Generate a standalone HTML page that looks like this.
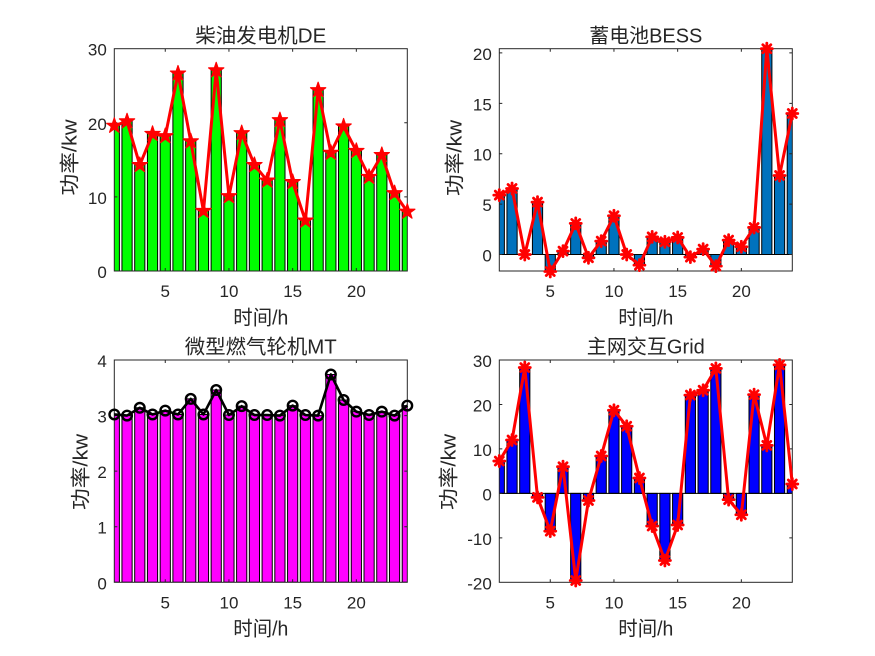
<!DOCTYPE html>
<html><head><meta charset="utf-8">
<style>
html,body{margin:0;padding:0;background:#fff;}
svg{display:block;}
text{font-family:"Liberation Sans","Noto Sans CJK SC",sans-serif;fill:#262626;}
.tk{font-size:17px;}
.tt{font-size:20px;}
.b rect{vector-effect:non-scaling-stroke;stroke:#000;stroke-width:1;}
.ax{fill:none;stroke:#262626;stroke-width:1;}
</style></head>
<body>
<svg width="875" height="656" viewBox="0 0 875 656" xmlns="http://www.w3.org/2000/svg">
<defs>
<marker id="star" markerUnits="userSpaceOnUse" markerWidth="30" markerHeight="30" refX="0" refY="0" overflow="visible" orient="0">
<polygon points="0,-8 1.8,-2.48 7.61,-2.47 2.91,0.95 4.7,6.47 0,3.06 -4.7,6.47 -2.91,0.95 -7.61,-2.47 -1.8,-2.48" fill="#ff0000" stroke="#ff0000" stroke-width="1.2" stroke-linejoin="round"/>
</marker>
<marker id="ast" markerUnits="userSpaceOnUse" markerWidth="30" markerHeight="30" refX="0" refY="0" overflow="visible" orient="0">
<path d="M0,-5.5V5.5M-5.5,0H5.5M-4,-4L4,4M-4,4L4,-4" stroke="#ff0000" stroke-width="2.8" stroke-linecap="round" fill="none"/>
<circle cx="0" cy="0" r="3" fill="#ff0000"/>
</marker>
<marker id="circ" markerUnits="userSpaceOnUse" markerWidth="30" markerHeight="30" refX="0" refY="0" overflow="visible" orient="0">
<circle cx="0" cy="0" r="4.8" fill="none" stroke="#000" stroke-width="2.4"/>
</marker>
</defs>

<!-- ============ TOP LEFT: DE ============ -->
<svg class="b" x="114.3" y="48.7" width="293" height="222.3" viewBox="1 -30 23 30" preserveAspectRatio="none">
<g fill="#00ff00">
<rect x="0.6" y="-19.6" width="0.8" height="19.6"/>
<rect x="1.6" y="-20.2" width="0.8" height="20.2"/>
<rect x="2.6" y="-14.3" width="0.8" height="14.3"/>
<rect x="3.6" y="-18.5" width="0.8" height="18.5"/>
<rect x="4.6" y="-18.2" width="0.8" height="18.2"/>
<rect x="5.6" y="-26.65" width="0.8" height="26.65"/>
<rect x="6.6" y="-17.5" width="0.8" height="17.5"/>
<rect x="7.6" y="-8.1" width="0.8" height="8.1"/>
<rect x="8.6" y="-27.08" width="0.8" height="27.08"/>
<rect x="9.6" y="-10.1" width="0.8" height="10.1"/>
<rect x="10.6" y="-18.6" width="0.8" height="18.6"/>
<rect x="11.6" y="-14.3" width="0.8" height="14.3"/>
<rect x="12.6" y="-12.2" width="0.8" height="12.2"/>
<rect x="13.6" y="-20.35" width="0.8" height="20.35"/>
<rect x="14.6" y="-12" width="0.8" height="12"/>
<rect x="15.6" y="-6.8" width="0.8" height="6.8"/>
<rect x="16.6" y="-24.4" width="0.8" height="24.4"/>
<rect x="17.6" y="-15.95" width="0.8" height="15.95"/>
<rect x="18.6" y="-19.5" width="0.8" height="19.5"/>
<rect x="19.6" y="-16.2" width="0.8" height="16.2"/>
<rect x="20.6" y="-12.7" width="0.8" height="12.7"/>
<rect x="21.6" y="-15.65" width="0.8" height="15.65"/>
<rect x="22.6" y="-10.5" width="0.8" height="10.5"/>
<rect x="23.6" y="-8" width="0.8" height="8"/>
</g>
</svg>
<rect class="ax" x="114.3" y="48.7" width="293" height="222.3"/>
<path class="ax" d="M165.26,271v-3M228.95,271v-3M292.65,271v-3M356.34,271v-3M165.26,48.7v3M228.95,48.7v3M292.65,48.7v3M356.34,48.7v3M114.3,196.9h3M114.3,122.8h3M407.3,196.9h-3M407.3,122.8h-3"/>
<polyline fill="none" stroke="#ff0000" stroke-width="3" stroke-linejoin="round" marker-start="url(#star)" marker-mid="url(#star)" marker-end="url(#star)"
points="114.3,125.76 127.04,121.32 139.78,165.04 152.52,133.91 165.26,136.14 178,73.52 190.73,141.32 203.47,210.98 216.21,70.34 228.95,196.16 241.69,133.17 254.43,165.04 267.17,180.6 279.91,120.21 292.65,182.08 305.39,220.61 318.13,90.2 330.87,152.81 343.6,126.5 356.34,150.96 369.08,176.89 381.82,155.03 394.56,193.19 407.3,211.72"/>
<g class="tk" text-anchor="middle">
<text x="165.26" y="297">5</text><text x="228.95" y="297">10</text><text x="292.65" y="297">15</text><text x="356.34" y="297">20</text>
</g>
<g class="tk" text-anchor="end">
<text x="106.8" y="278">0</text><text x="106.8" y="203.9">10</text><text x="106.8" y="129.8">20</text><text x="106.8" y="55.7">30</text>
</g>
<text class="tt" x="260.8" y="42.7" text-anchor="middle" textLength="131" lengthAdjust="spacingAndGlyphs">柴油发电机DE</text>
<text class="tt" x="260.8" y="324.5" text-anchor="middle" textLength="55" lengthAdjust="spacingAndGlyphs">时间/h</text>
<text class="tt" transform="translate(70.5,157.5) rotate(-90)" text-anchor="middle" dominant-baseline="central" textLength="76" lengthAdjust="spacingAndGlyphs">功率/kw</text>

<!-- ============ TOP RIGHT: BESS ============ -->
<svg class="b" x="499.3" y="48.7" width="293" height="222.3" viewBox="1 -20.42 23 22.06" preserveAspectRatio="none">
<g fill="#0072bd">
<rect x="0.6" y="-5.89" width="0.8" height="5.89"/>
<rect x="1.6" y="-6.55" width="0.8" height="6.55"/>
<rect x="3.6" y="-5.19" width="0.8" height="5.19"/>
<rect x="4.6" y="0" width="0.8" height="1.75"/>
<rect x="5.6" y="-0.33" width="0.8" height="0.33"/>
<rect x="6.6" y="-3.08" width="0.8" height="3.08"/>
<rect x="7.6" y="0" width="0.8" height="0.33"/>
<rect x="8.6" y="-1.32" width="0.8" height="1.32"/>
<rect x="9.6" y="-3.84" width="0.8" height="3.84"/>
<rect x="11.6" y="0" width="0.8" height="1.06"/>
<rect x="12.6" y="-1.75" width="0.8" height="1.75"/>
<rect x="13.6" y="-1.26" width="0.8" height="1.26"/>
<rect x="14.6" y="-1.69" width="0.8" height="1.69"/>
<rect x="15.6" y="0" width="0.8" height="0.26"/>
<rect x="16.6" y="-0.53" width="0.8" height="0.53"/>
<rect x="17.6" y="0" width="0.8" height="1.16"/>
<rect x="18.6" y="-1.42" width="0.8" height="1.42"/>
<rect x="19.6" y="-0.76" width="0.8" height="0.76"/>
<rect x="20.6" y="-2.68" width="0.8" height="2.68"/>
<rect x="21.6" y="-20.42" width="0.8" height="20.42"/>
<rect x="22.6" y="-7.84" width="0.8" height="7.84"/>
<rect x="23.6" y="-13.99" width="0.8" height="13.99"/>
</g>
</svg>
<line x1="499.3" y1="254.47" x2="792.3" y2="254.47" stroke="#000" stroke-width="1"/>
<rect class="ax" x="499.3" y="48.7" width="293" height="222.3"/>
<path class="ax" d="M550.26,271v-3M613.95,271v-3M677.65,271v-3M741.34,271v-3M550.26,48.7v3M613.95,48.7v3M677.65,48.7v3M741.34,48.7v3M499.3,254.47h3M499.3,204.09h3M499.3,153.7h3M499.3,103.32h3M499.3,52.93h3M792.3,254.47h-3M792.3,204.09h-3M792.3,153.7h-3M792.3,103.32h-3M792.3,52.93h-3"/>
<polyline fill="none" stroke="#ff0000" stroke-width="3" stroke-linejoin="round" marker-start="url(#ast)" marker-mid="url(#ast)" marker-end="url(#ast)"
points="499.3,195.12 512.04,188.47 524.78,254.47 537.52,202.17 550.26,271.5 563,251.14 575.73,223.43 588.47,257.8 601.21,241.17 613.95,215.77 626.69,254.47 639.43,265.15 652.17,236.84 664.91,241.77 677.65,237.44 690.39,257.09 703.13,249.13 715.87,266.16 728.6,240.16 741.34,246.81 754.08,227.46 766.82,48.7 779.56,175.47 792.3,113.49"/>
<g class="tk" text-anchor="middle">
<text x="550.26" y="297">5</text><text x="613.95" y="297">10</text><text x="677.65" y="297">15</text><text x="741.34" y="297">20</text>
</g>
<g class="tk" text-anchor="end">
<text x="491.8" y="261.5">0</text><text x="491.8" y="211.1">5</text><text x="491.8" y="160.7">10</text><text x="491.8" y="110.3">15</text><text x="491.8" y="59.9">20</text>
</g>
<text class="tt" x="645.8" y="42.7" text-anchor="middle" textLength="113" lengthAdjust="spacingAndGlyphs">蓄电池BESS</text>
<text class="tt" x="645.8" y="324.5" text-anchor="middle" textLength="55" lengthAdjust="spacingAndGlyphs">时间/h</text>
<text class="tt" transform="translate(455.5,158) rotate(-90)" text-anchor="middle" dominant-baseline="central" textLength="76" lengthAdjust="spacingAndGlyphs">功率/kw</text>

<!-- ============ BOTTOM LEFT: MT ============ -->
<svg class="b" x="114.3" y="360" width="293" height="222.3" viewBox="1 -4 23 4" preserveAspectRatio="none">
<g fill="#ff00ff">
<rect x="0.6" y="-3.02" width="0.8" height="3.02"/>
<rect x="1.6" y="-3.00" width="0.8" height="3.00"/>
<rect x="2.6" y="-3.14" width="0.8" height="3.14"/>
<rect x="3.6" y="-3.02" width="0.8" height="3.02"/>
<rect x="4.6" y="-3.09" width="0.8" height="3.09"/>
<rect x="5.6" y="-3.02" width="0.8" height="3.02"/>
<rect x="6.6" y="-3.30" width="0.8" height="3.30"/>
<rect x="7.6" y="-3.02" width="0.8" height="3.02"/>
<rect x="8.6" y="-3.46" width="0.8" height="3.46"/>
<rect x="9.6" y="-3.01" width="0.8" height="3.01"/>
<rect x="10.6" y="-3.17" width="0.8" height="3.17"/>
<rect x="11.6" y="-3.01" width="0.8" height="3.01"/>
<rect x="12.6" y="-3.01" width="0.8" height="3.01"/>
<rect x="13.6" y="-3.00" width="0.8" height="3.00"/>
<rect x="14.6" y="-3.18" width="0.8" height="3.18"/>
<rect x="15.6" y="-3.01" width="0.8" height="3.01"/>
<rect x="16.6" y="-3.00" width="0.8" height="3.00"/>
<rect x="17.6" y="-3.74" width="0.8" height="3.74"/>
<rect x="18.6" y="-3.28" width="0.8" height="3.28"/>
<rect x="19.6" y="-3.07" width="0.8" height="3.07"/>
<rect x="20.6" y="-3.01" width="0.8" height="3.01"/>
<rect x="21.6" y="-3.07" width="0.8" height="3.07"/>
<rect x="22.6" y="-3.00" width="0.8" height="3.00"/>
<rect x="23.6" y="-3.18" width="0.8" height="3.18"/>
</g>
</svg>
<rect class="ax" x="114.3" y="360" width="293" height="222.3"/>
<path class="ax" d="M165.26,582.3v-3M228.95,582.3v-3M292.65,582.3v-3M356.34,582.3v-3M165.26,360v3M228.95,360v3M292.65,360v3M356.34,360v3M114.3,526.73h3M114.3,471.15h3M114.3,415.58h3M407.3,526.73h-3M407.3,471.15h-3M407.3,415.58h-3"/>
<polyline fill="none" stroke="#000" stroke-width="2.6" stroke-linejoin="round" marker-start="url(#circ)" marker-mid="url(#circ)" marker-end="url(#circ)"
points="114.3,414.46 127.04,415.57 139.78,407.79 152.52,414.46 165.26,410.57 178,414.46 190.73,398.9 203.47,414.46 216.21,390.01 228.95,415.02 241.69,406.13 254.43,415.02 267.17,415.02 279.91,415.57 292.65,405.57 305.39,415.02 318.13,415.57 330.87,374.45 343.6,400.01 356.34,411.68 369.08,415.02 381.82,411.68 394.56,415.57 407.3,405.57"/>
<g class="tk" text-anchor="middle">
<text x="165.26" y="608.3">5</text><text x="228.95" y="608.3">10</text><text x="292.65" y="608.3">15</text><text x="356.34" y="608.3">20</text>
</g>
<g class="tk" text-anchor="end">
<text x="106.8" y="589.3">0</text><text x="106.8" y="533.7">1</text><text x="106.8" y="478.2">2</text><text x="106.8" y="422.6">3</text><text x="106.8" y="367">4</text>
</g>
<text class="tt" x="260.8" y="353.5" text-anchor="middle" textLength="152" lengthAdjust="spacingAndGlyphs">微型燃气轮机MT</text>
<text class="tt" x="260.8" y="635.3" text-anchor="middle" textLength="55" lengthAdjust="spacingAndGlyphs">时间/h</text>
<text class="tt" transform="translate(81.5,472) rotate(-90)" text-anchor="middle" dominant-baseline="central" textLength="76" lengthAdjust="spacingAndGlyphs">功率/kw</text>

<!-- ============ BOTTOM RIGHT: Grid ============ -->
<svg class="b" x="499.3" y="360" width="293" height="222.3" viewBox="1 -30 23 50" preserveAspectRatio="none">
<g fill="#0000ff">
<rect x="0.6" y="-7.27" width="0.8" height="7.27"/>
<rect x="1.6" y="-12" width="0.8" height="12"/>
<rect x="2.6" y="-28.3" width="0.8" height="28.3"/>
<rect x="3.6" y="0" width="0.8" height="0.9"/>
<rect x="4.6" y="0" width="0.8" height="8.5"/>
<rect x="5.6" y="-6" width="0.8" height="6"/>
<rect x="6.6" y="0" width="0.8" height="19.6"/>
<rect x="7.6" y="0" width="0.8" height="1.6"/>
<rect x="8.6" y="-8.4" width="0.8" height="8.4"/>
<rect x="9.6" y="-18.7" width="0.8" height="18.7"/>
<rect x="10.6" y="-15.1" width="0.8" height="15.1"/>
<rect x="11.6" y="-3.45" width="0.8" height="3.45"/>
<rect x="12.6" y="0" width="0.8" height="7.35"/>
<rect x="13.6" y="0" width="0.8" height="15.1"/>
<rect x="14.6" y="0" width="0.8" height="7.1"/>
<rect x="15.6" y="-22.1" width="0.8" height="22.1"/>
<rect x="16.6" y="-23.2" width="0.8" height="23.2"/>
<rect x="17.6" y="-28.1" width="0.8" height="28.1"/>
<rect x="18.6" y="0" width="0.8" height="1.4"/>
<rect x="19.6" y="0" width="0.8" height="4.8"/>
<rect x="20.6" y="-22.2" width="0.8" height="22.2"/>
<rect x="21.6" y="-10.8" width="0.8" height="10.8"/>
<rect x="22.6" y="-28.9" width="0.8" height="28.9"/>
<rect x="23.6" y="-2.1" width="0.8" height="2.1"/>
</g>
</svg>
<line x1="499.3" y1="493.38" x2="792.3" y2="493.38" stroke="#000" stroke-width="1"/>
<rect class="ax" x="499.3" y="360" width="293" height="222.3"/>
<path class="ax" d="M550.26,582.3v-3M613.95,582.3v-3M677.65,582.3v-3M741.34,582.3v-3M550.26,360v3M613.95,360v3M677.65,360v3M741.34,360v3M499.3,537.84h3M499.3,493.38h3M499.3,448.92h3M499.3,404.46h3M792.3,537.84h-3M792.3,493.38h-3M792.3,448.92h-3M792.3,404.46h-3"/>
<polyline fill="none" stroke="#ff0000" stroke-width="3" stroke-linejoin="round" marker-start="url(#ast)" marker-mid="url(#ast)" marker-end="url(#ast)"
points="499.3,461.06 512.04,440.03 524.78,367.56 537.52,497.38 550.26,531.17 563,466.7 575.73,580.52 588.47,500.49 601.21,456.03 613.95,410.24 626.69,426.25 639.43,478.04 652.17,526.06 664.91,560.51 677.65,524.95 690.39,395.12 703.13,390.23 715.87,368.45 728.6,499.6 741.34,514.72 754.08,394.68 766.82,445.36 779.56,364.89 792.3,484.04"/>
<g class="tk" text-anchor="middle">
<text x="550.26" y="608.3">5</text><text x="613.95" y="608.3">10</text><text x="677.65" y="608.3">15</text><text x="741.34" y="608.3">20</text>
</g>
<g class="tk" text-anchor="end">
<text x="491.8" y="589.3">-20</text><text x="491.8" y="544.8">-10</text><text x="491.8" y="500.4">0</text><text x="491.8" y="455.9">10</text><text x="491.8" y="411.5">20</text><text x="491.8" y="367">30</text>
</g>
<text class="tt" x="645.8" y="353.5" text-anchor="middle" textLength="118" lengthAdjust="spacingAndGlyphs">主网交互Grid</text>
<text class="tt" x="645.8" y="635.3" text-anchor="middle" textLength="55" lengthAdjust="spacingAndGlyphs">时间/h</text>
<text class="tt" transform="translate(449.5,472) rotate(-90)" text-anchor="middle" dominant-baseline="central" textLength="76" lengthAdjust="spacingAndGlyphs">功率/kw</text>
</svg>
</body></html>
